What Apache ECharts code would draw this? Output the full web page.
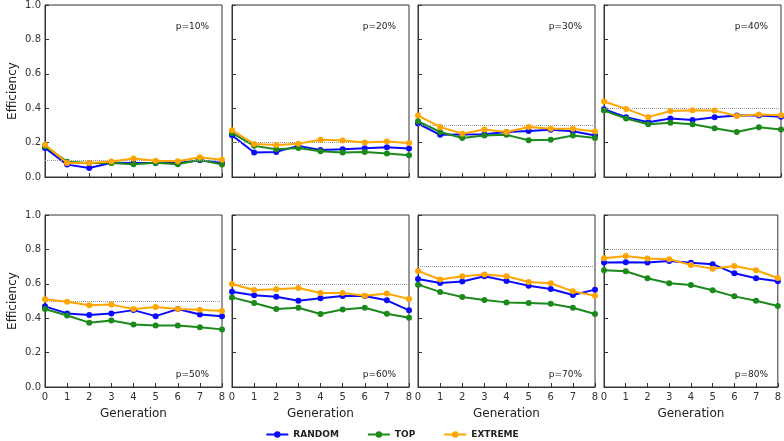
<!DOCTYPE html>
<html><head><meta charset="utf-8">
<script src="https://cdn.jsdelivr.net/npm/echarts@6/dist/echarts.min.js"></script>
<style>html,body{margin:0;padding:0;background:#fff}#c{width:784px;height:441px}</style>
</head><body><div id="c"></div>
<script>
const generations = [0,1,2,3,4,5,6,7,8];
const pLevels = [0.1,0.2,0.3,0.4,0.5,0.6,0.7,0.8];
const pLabels = ['p=10%','p=20%','p=30%','p=40%','p=50%','p=60%','p=70%','p=80%'];
const seriesNames = ['RANDOM','TOP','EXTREME'];
const seriesColors = ['#0a0aff','#1b8a1b','#ffa500'];
const randomVals = [
  [0.169,0.072,0.052,0.083,0.082,0.082,0.082,0.097,0.081],
  [0.243,0.142,0.146,0.181,0.157,0.161,0.167,0.173,0.165],
  [0.311,0.245,0.247,0.249,0.262,0.268,0.274,0.266,0.241],
  [0.394,0.348,0.318,0.340,0.332,0.348,0.357,0.357,0.351],
  [0.469,0.428,0.418,0.428,0.447,0.412,0.453,0.422,0.412],
  [0.554,0.533,0.525,0.502,0.516,0.529,0.529,0.504,0.446],
  [0.628,0.605,0.613,0.644,0.617,0.589,0.570,0.535,0.566],
  [0.724,0.726,0.724,0.733,0.722,0.714,0.661,0.632,0.615]
];
const topVals = [
  [0.179,0.089,0.082,0.081,0.074,0.083,0.074,0.100,0.072],
  [0.256,0.181,0.161,0.169,0.150,0.142,0.146,0.136,0.126],
  [0.324,0.262,0.227,0.241,0.245,0.214,0.216,0.241,0.227],
  [0.386,0.340,0.307,0.315,0.307,0.283,0.262,0.289,0.276],
  [0.453,0.416,0.374,0.387,0.364,0.358,0.358,0.348,0.335],
  [0.521,0.488,0.453,0.461,0.424,0.451,0.461,0.426,0.403],
  [0.595,0.553,0.523,0.506,0.492,0.488,0.484,0.461,0.424],
  [0.679,0.673,0.632,0.603,0.593,0.562,0.527,0.502,0.471]
];
const extremeVals = [
  [0.188,0.082,0.082,0.090,0.107,0.095,0.091,0.115,0.100],
  [0.272,0.192,0.186,0.194,0.216,0.212,0.200,0.206,0.198],
  [0.357,0.291,0.252,0.276,0.262,0.291,0.280,0.280,0.264],
  [0.439,0.396,0.348,0.384,0.388,0.386,0.355,0.363,0.359],
  [0.510,0.496,0.475,0.479,0.453,0.465,0.453,0.449,0.442],
  [0.599,0.564,0.568,0.576,0.547,0.547,0.531,0.543,0.512],
  [0.675,0.625,0.644,0.654,0.644,0.611,0.603,0.556,0.531],
  [0.749,0.761,0.747,0.743,0.710,0.687,0.704,0.679,0.634]
];
const allVals = [randomVals, topVals, extremeVals];

const FONT = 'DejaVu Sans';
const gridLefts = [45,232,418,604];
const gridW = 177;
const rowTops = [5,215];
const rowH = 172;

const grids = [], xAxes = [], yAxes = [], series = [], titles = [];
for (let i = 0; i < 8; i++) {
  const r = Math.floor(i/4), c = i % 4;
  grids.push({left: gridLefts[c], top: rowTops[r], width: gridW, height: rowH,
    show: true, borderColor: '#333', borderWidth: 1, backgroundColor: 'transparent', containLabel: false});
  xAxes.push({type: 'value', gridIndex: i, min: 0, max: 8, interval: 1,
    name: r === 1 ? 'Generation' : '', nameLocation: 'middle', nameGap: 21,
    nameTextStyle: {fontFamily: FONT, fontSize: 12, color: '#222'},
    axisLine: {show: true, lineStyle: {color: '#333'}},
    axisTick: {show: true, inside: true, length: 4, lineStyle: {color: '#333'}},
    axisLabel: {show: r === 1, fontFamily: FONT, fontSize: 10, color: '#333', margin: 5},
    splitLine: {show: false}});
  yAxes.push({type: 'value', gridIndex: i, min: 0, max: 1, interval: 0.2,
    name: c === 0 ? 'Efficiency' : '', nameLocation: 'middle', nameGap: 26, nameRotate: 90,
    nameTextStyle: {fontFamily: FONT, fontSize: 12, color: '#222'},
    axisLine: {show: true, lineStyle: {color: '#333'}},
    axisTick: {show: true, inside: true, length: 4, lineStyle: {color: '#333'}},
    axisLabel: {show: c === 0, fontFamily: FONT, fontSize: 10, color: '#333', margin: 4,
      formatter: v => v.toFixed(1)},
    splitLine: {show: false}});
  for (let s = 0; s < 3; s++) {
    const ser = {name: seriesNames[s], type: 'line', xAxisIndex: i, yAxisIndex: i,
      data: generations.map((g, k) => [g, allVals[s][i][k]]),
      symbol: 'circle', symbolSize: 6, showSymbol: true,
      itemStyle: {color: seriesColors[s]},
      lineStyle: {color: seriesColors[s], width: 2},
      animation: false, z: 3 + s};
    if (s === 0) {
      ser.markLine = {silent: true, symbol: ['none','none'], label: {show: false},
        lineStyle: {color: '#999', type: 'dotted', width: 1},
        data: [{yAxis: pLevels[i]}], animation: false};
    }
    series.push(ser);
  }
  titles.push({text: pLabels[i], right: 784 - (gridLefts[c] + gridW) + 8,
    top: r === 0 ? rowTops[r] + 12 : rowTops[r] + rowH - 22,
    textStyle: {fontFamily: FONT, fontSize: 9, fontWeight: 'normal', color: '#222'}});
}

const chart = echarts.init(document.getElementById('c'), null, {renderer: 'canvas'});
chart.setOption({
  animation: false,
  backgroundColor: '#fff',
  title: titles,
  grid: grids, xAxis: xAxes, yAxis: yAxes, series: series,
  legend: {data: seriesNames, top: 430, padding: 0, left: 'center', itemWidth: 22, itemHeight: 8, itemGap: 28,
    textStyle: {fontFamily: FONT, fontSize: 9, fontWeight: 'bold', color: '#222'}}
});
</script></body></html>
